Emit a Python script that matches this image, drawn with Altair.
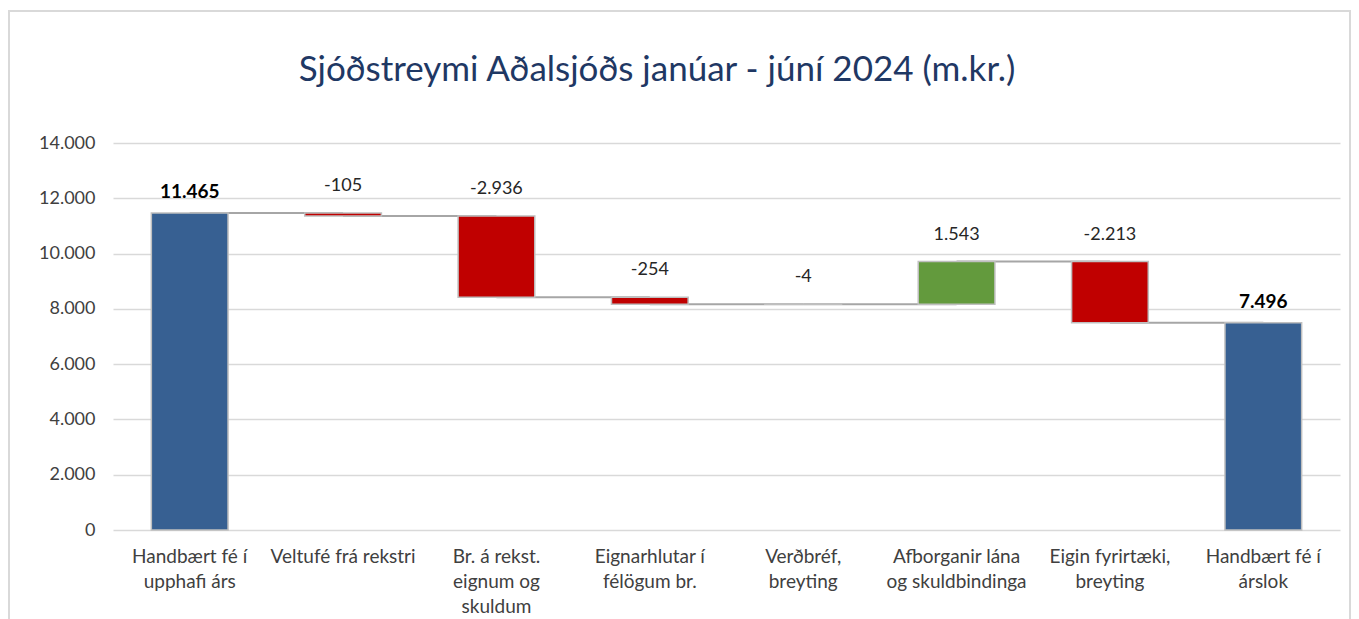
import altair as alt
import pandas as pd

categories = [
    "Handbært fé í|upphafi árs",
    "Veltufé frá rekstri",
    "Br. á rekst.|eignum og|skuldum",
    "Eignarhlutar í|félögum br.",
    "Verðbréf,|breyting",
    "Afborganir lána|og skuldbindinga",
    "Eigin fyrirtæki,|breyting",
    "Handbært fé í|árslok",
]
amounts = [11465, -105, -2936, -254, -4, 1543, -2213, 7496]
kinds = ["total", "delta", "delta", "delta", "delta", "delta", "delta", "total"]
y_ticks = [0, 2000, 4000, 6000, 8000, 10000, 12000, 14000]
title_text = ["Sjóðstreymi Aðalsjóðs janúar - júní 2024 (m.kr.)"]

rows = []
running = 0
for cat, amt, kind in zip(categories, amounts, kinds):
    if kind == "total":
        start, end = 0, amt
    else:
        start, end = running, running + amt
    running = end
    if kind == "total":
        ck = "total"
    elif amt >= 0:
        ck = "up"
    else:
        ck = "down"
    rows.append({
        "cat": cat, "start": start, "end": end, "top": max(start, end),
        "kind": kind, "ck": ck, "label": f"{amt:,}".replace(",", "."),
    })
df = pd.DataFrame(rows)

conn = pd.DataFrame([
    {"cat": categories[i], "cat2": categories[i + 1], "level": rows[i]["end"]}
    for i in range(len(categories) - 1)
])

FONT = "Lato"
W, H = 1227, 387
x_scale = alt.Scale(domain=categories, paddingInner=0.5, paddingOuter=0.25)
y_scale = alt.Scale(domain=[0, 14000], nice=False)

x_enc = alt.X("cat:N", scale=x_scale, sort=categories, title=None,
              axis=alt.Axis(labelAngle=0, labelAlign="center", labelBaseline="top",
                            domain=False, ticks=False, labelPadding=17,
                            labelExpr="split(datum.label, '|')", labelFontSize=19,
                            labelColor="#404040", labelLineHeight=25, labelFont=FONT))

connectors = alt.Chart(conn).mark_rule(color="#a6a6a6", strokeWidth=2).encode(
    x=alt.X("cat:N", scale=x_scale, sort=categories),
    x2="cat2:N",
    y=alt.Y("level:Q", scale=y_scale),
)

bars = alt.Chart(df).mark_bar(stroke="#bfbfbf", strokeWidth=1.5).encode(
    x=x_enc,
    y=alt.Y("start:Q", scale=y_scale, title=None,
            axis=alt.Axis(values=y_ticks, domain=False, ticks=False, labelPadding=18,
                          labelExpr="replace(format(datum.value, ','), ',', '.')",
                          labelFontSize=18, labelColor="#404040", labelFont=FONT,
                          gridColor="#d9d9d9", gridWidth=1.5)),
    y2="end:Q",
    color=alt.Color("ck:N", scale=alt.Scale(domain=["total", "up", "down"],
                                            range=["#376092", "#639a3d", "#c00000"]),
                    legend=None),
)

lab_delta = alt.Chart(df).transform_filter("datum.kind == 'delta'").mark_text(
    font=FONT, fontSize=18, color="#262626", baseline="middle", dy=-27
).encode(x=alt.X("cat:N", scale=x_scale, sort=categories), y=alt.Y("top:Q", scale=y_scale), text="label:N")

lab_total = alt.Chart(df).transform_filter("datum.kind == 'total'").mark_text(
    font=FONT, fontSize=19, fontWeight="bold", color="#000000", baseline="middle", dy=-21
).encode(x=alt.X("cat:N", scale=x_scale, sort=categories), y=alt.Y("top:Q", scale=y_scale), text="label:N")

deco = pd.DataFrame({"t": title_text})
title = alt.Chart(deco).mark_text(
    font=FONT, fontSize=35, color="#1f3864", align="center", baseline="middle"
).encode(x=alt.value(544), y=alt.value(-73), text="t:N")

border = alt.Chart(deco).mark_rect(fillOpacity=0, stroke="#d9d9d9", strokeWidth=2).encode(
    x=alt.value(-104), x2=alt.value(1237), y=alt.value(-132), y2=alt.value(600)
)

chart = alt.layer(border, connectors, bars, lab_delta, lab_total, title).properties(
    width=W, height=H,
    padding={"left": 105, "top": 135, "right": 11, "bottom": 89},
    autosize=alt.AutoSizeParams(type="none"),
).configure(font=FONT).configure_view(stroke=None)

chart.save("out.html", embed_options={"renderer": "svg", "actions": False})
